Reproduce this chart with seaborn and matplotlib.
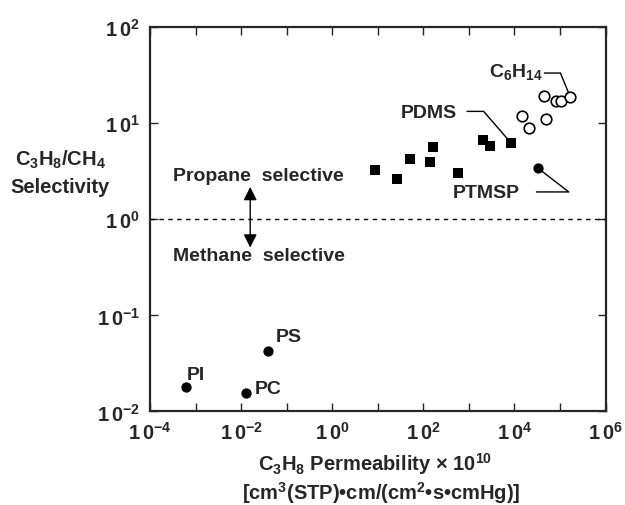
import numpy as np
import pandas as pd
import matplotlib
matplotlib.use("Agg")
import matplotlib.pyplot as plt
from matplotlib.ticker import FixedLocator, FuncFormatter, NullLocator
import seaborn as sns

# Rubbery polymers (filled squares)
rubbery_perm = [8.8, 26, 52, 138, 163, 568, 2010, 2860, 8590]
rubbery_sel = [3.24, 2.65, 4.25, 3.95, 5.7, 3.04, 6.65, 5.75, 6.15]

# PDMS with C6H14 (open circles)
c6_perm = [14760, 20600, 45600, 50500, 82400, 104000, 170000]
c6_sel = [11.9, 8.8, 19.0, 11.0, 16.8, 16.8, 18.5]

# Glassy polymers (filled circles)
glassy_names = ["PI", "PC", "PS", "PTMSP"]
glassy_perm = [6.2e-4, 0.0127, 0.0398, 32900]
glassy_sel = [0.0179, 0.0154, 0.0425, 3.4]

x_decades = [-4, -3, -2, -1, 0, 1, 2, 3, 4, 5, 6]
x_labelled = [-4, -2, 0, 2, 4, 6]
y_decades = [-2, -1, 0, 1, 2]

sns.set_style("ticks")
plt.rcParams["font.family"] = ["Liberation Sans", "DejaVu Sans"]
plt.rcParams["font.weight"] = "bold"
plt.rcParams["mathtext.fontset"] = "custom"
plt.rcParams["mathtext.rm"] = "Liberation Sans:bold"
plt.rcParams["mathtext.it"] = "Liberation Sans:bold"
plt.rcParams["mathtext.bf"] = "Liberation Sans:bold"

fig = plt.figure(figsize=(6.25, 5.06), dpi=100)
ax = fig.add_axes([0.240, 0.1848, 0.7288, 0.7599])

rub = pd.DataFrame({"perm": rubbery_perm, "sel": rubbery_sel})
c6 = pd.DataFrame({"perm": c6_perm, "sel": c6_sel})
gl = pd.DataFrame({"name": glassy_names, "perm": glassy_perm, "sel": glassy_sel})

sns.scatterplot(data=rub, x="perm", y="sel", marker="s", s=62, color="black",
                edgecolor="black", linewidth=0, ax=ax, zorder=3)
sns.scatterplot(data=c6, x="perm", y="sel", marker="o", s=58, facecolor="white",
                edgecolor="black", linewidth=1.2, ax=ax, zorder=3)
sns.scatterplot(data=gl, x="perm", y="sel", marker="o", s=55, color="black",
                edgecolor="black", linewidth=0, ax=ax, zorder=3)

ax.set_xscale("log")
ax.set_yscale("log")
ax.set_xlim(1e-4, 1e6)
ax.set_ylim(1e-2, 1e2)

# dividing line between propane- and methane-selective regions
ax.axhline(1.0, color="black", lw=1.0, linestyle=(0, (3.2, 3.2)), zorder=1)

ax.xaxis.set_major_locator(FixedLocator([10.0 ** d for d in x_decades]))
ax.yaxis.set_major_locator(FixedLocator([10.0 ** d for d in y_decades]))
ax.xaxis.set_minor_locator(NullLocator())
ax.yaxis.set_minor_locator(NullLocator())


def xfmt(v, pos):
    e = int(round(np.log10(v)))
    return r"$1\,0^{%d}$" % e if e in x_labelled else ""


ax.xaxis.set_major_formatter(FuncFormatter(xfmt))
ax.yaxis.set_major_formatter(FuncFormatter(lambda v, p: r"$1\,0^{%d}$" % int(round(np.log10(v)))))
ax.tick_params(which="major", direction="in", length=6, width=1.0,
               top=True, right=True, labelsize=14.5, pad=7)
for sp in ax.spines.values():
    sp.set_linewidth(1.6)
ax.set_xlabel("")
ax.set_ylabel("")

fs = 14
# region labels and arrow
ax.text(10 ** -3.50, 10 ** 0.451, "Propane  selective", fontsize=fs, ha="left", va="center")
ax.text(10 ** -3.50, 10 ** -0.382, "Methane  selective", fontsize=fs, ha="left", va="center")
ax.annotate("", xy=(10 ** -1.80, 10 ** 0.336), xytext=(10 ** -1.80, 10 ** -0.295),
            arrowprops=dict(arrowstyle="<|-|>", color="black", lw=1.0,
                            mutation_scale=20, shrinkA=0, shrinkB=0))

# glassy polymer labels
ax.text(10 ** -3.187, 10 ** -1.615, "PI", fontsize=fs, ha="left", va="center")
ax.text(10 ** -1.237, 10 ** -1.216, "PS", fontsize=fs, ha="left", va="center")
ax.text(10 ** -1.692, 10 ** -1.760, "PC", fontsize=fs, ha="left", va="center")

# leader-line labels
ax.text(10 ** 2.747, 10 ** 1.115, "PDMS", fontsize=fs, ha="right", va="center")
ax.plot([10 ** 2.960, 10 ** 3.325, rubbery_perm[-1]],
        [10 ** 1.122, 10 ** 1.122, rubbery_sel[-1]], color="black", lw=1.0, zorder=2)

ax.text(10 ** 2.637, 10 ** 0.281, "PTMSP", fontsize=fs, ha="left", va="center")
ax.plot([glassy_perm[-1], 10 ** 5.193, 10 ** 4.484],
        [glassy_sel[-1], 10 ** 0.284, 10 ** 0.284], color="black", lw=1.0, zorder=2)

ax.text(10 ** 4.63, 10 ** 1.49, r"C$_6$H$_{14}$", fontsize=fs, ha="right", va="baseline")
ax.plot([10 ** 4.659, 10 ** 5.011, c6_perm[-1]],
        [10 ** 1.521, 10 ** 1.521, c6_sel[-1]], color="black", lw=1.0, zorder=2)

# axis titles
fig.text(0.096, 0.684, r"C$_3$H$_8$/CH$_4$", fontsize=14.5, ha="center", va="center")
fig.text(0.096, 0.630, "Selectivity", fontsize=14.5, ha="center", va="center")
fig.text(0.600, 0.083, r"C$_3$H$_8$ Permeability $\times$ 10$^{10}$", fontsize=14.5,
         ha="center", va="center")
fig.text(0.610, 0.026, "[cm$^3$(STP)\u2022cm/(cm$^2$\u2022s\u2022cmHg)]",
         fontsize=14.5, ha="center", va="center")

fig.savefig("out.png", dpi=100)
